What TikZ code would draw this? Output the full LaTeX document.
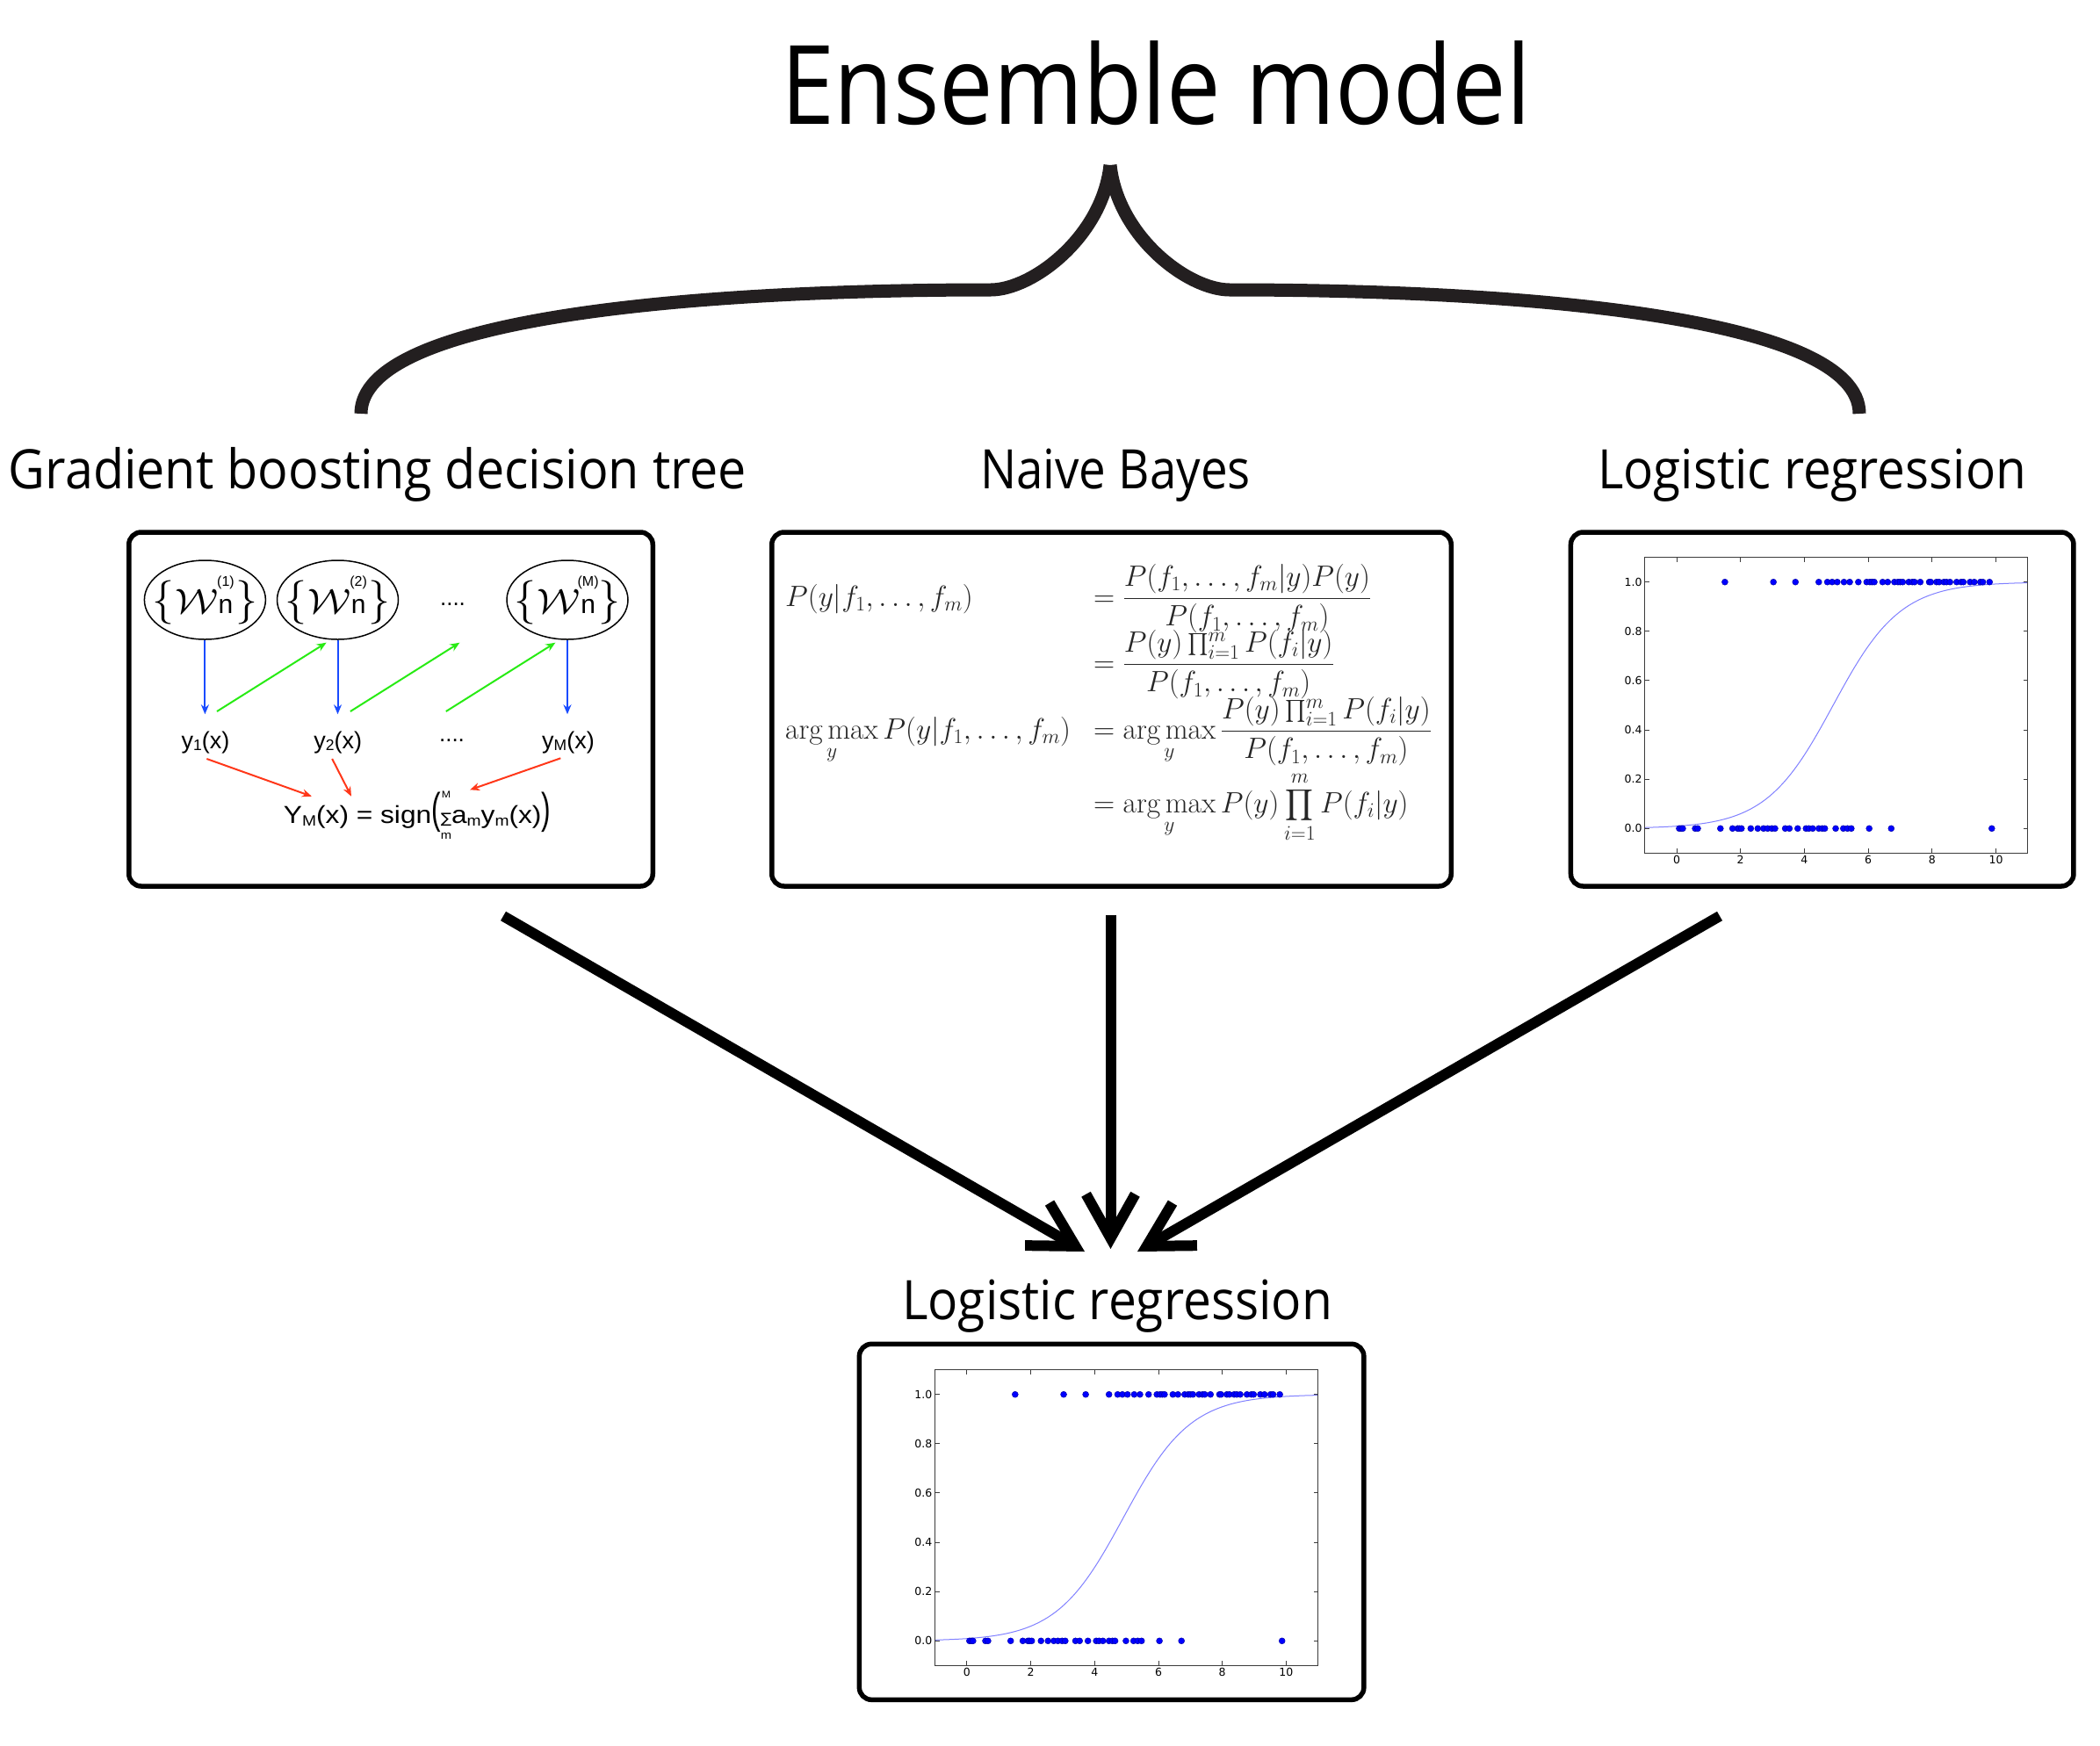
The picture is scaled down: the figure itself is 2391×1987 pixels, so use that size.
\RequirePackage{fix-cm}
\documentclass[tikz,border=0pt]{standalone}
\usepackage{amsmath}
\usepackage{graphicx}
\usepackage{fontspec}
\setsansfont{Liberation Sans}
\newfontfamily\headfont{Open Sans}
\newfontfamily\tickfont{DejaVu Sans}
\usetikzlibrary{arrows.meta,shapes.geometric}

\definecolor{bracecol}{RGB}{35,31,32}
\definecolor{gbblue}{RGB}{25,75,255}
\definecolor{gbgreen}{RGB}{40,235,20}
\definecolor{gbred}{RGB}{255,55,25}
\definecolor{dotblue}{RGB}{0,0,255}
\definecolor{curveblue}{RGB}{128,128,255}
\definecolor{axisgray}{RGB}{60,60,60}

\newcommand{\wset}[1]{\makebox[0pt][c]{%
  {\fontsize{50}{50}\selectfont$\{$}\kern1pt
  \scalebox{1.15}[1]{\fontsize{40}{40}\selectfont$\mathcal{W}$}%
  \rlap{\makebox[17pt][c]{\raisebox{31pt}{\fontsize{16}{16}\selectfont\sffamily #1}}}%
  \makebox[17pt][c]{\fontsize{30}{30}\selectfont\sffamily n}%
  \kern3pt{\fontsize{50}{50}\selectfont$\}$}}}
\newcommand{\ylab}[1]{\fontsize{27}{27}\selectfont\sffamily y\raisebox{-2pt}{\fontsize{17.5}{17.5}\selectfont #1}(x)}
\newcommand{\subm}[1]{\raisebox{-3pt}{\fontsize{17}{17}\selectfont #1}}
\newcommand{\tallparen}[1]{\scalebox{1}[1.75]{#1}}
\newcommand{\sumstack}{\begingroup\setbox0\hbox{\tickfont\fontsize{16}{16}\selectfont ∑}%
  \rlap{\makebox[\wd0][c]{\raisebox{29pt}{\fontsize{11}{11}\selectfont M}}}%
  \rlap{\makebox[\wd0][c]{\raisebox{-18pt}{\fontsize{13}{13}\selectfont m}}}%
  \box0\endgroup}

\tikzset{
  panel/.style={draw, line width=5.5pt, rounded corners=14pt, inner sep=0pt},
  heading/.style={anchor=base, inner sep=0pt},
  bigarrow/.style={line width=12pt, -{Straight Barb[length=50pt,width=56pt]}},
  wnode/.style={draw, ellipse, line width=1.5pt, minimum width=138pt, minimum height=90pt, inner sep=0pt},
  barrow/.style={gbblue, line width=2pt, -{Stealth[length=11pt,width=9pt]}},
  garrow/.style={gbgreen, line width=2pt, -{Stealth[length=11pt,width=9pt]}},
  rarrow/.style={gbred, line width=2pt, -{Stealth[length=11pt,width=9pt]}},
  ylabel/.style={anchor=base, inner sep=0pt},
  eq/.style={anchor=base west, inner sep=0pt, text=black!85, font=\fontsize{33.5}{33.5}\selectfont},
  ticklab/.style={inner sep=0pt, font=\tickfont\fontsize{12.5}{12.5}\selectfont},
  bracestroke/.style={draw=bracecol, line width=15pt},
}

% plot macro: #1 prefix, #2,#3 pixel position of data origin
\newcommand{\lrplot}[3]{%
\begin{scope}[shift={(#2,#3)}, x=36.35pt, y=280.6pt]
  \draw[curveblue, line width=1pt] plot[domain=-1:11, samples=120, smooth] (\x,{1/(1+exp(-0.95*(\x-4.9)))});
  \draw[axisgray, line width=1.2pt] (-1,-0.1) rectangle (11,1.1);
  \foreach \t in {0,2,4,6,8,10} {
    \draw[axisgray, line width=1pt] (\t,-0.1) -- ++(0,5pt);
    \draw[axisgray, line width=1pt] (\t,1.1) -- ++(0,-5pt);
    \node[ticklab, anchor=north] (#1x\t) at ([yshift=-3pt]\t,-0.1) {\t};
  }
  \foreach \v/\l [count=\i] in {0/0.0,0.2/0.2,0.4/0.4,0.6/0.6,0.8/0.8,1/1.0} {
    \draw[axisgray, line width=1pt] (-1,\v) -- ++(5pt,0);
    \draw[axisgray, line width=1pt] (11,\v) -- ++(-5pt,0);
    \node[ticklab, anchor=east] (#1y\i) at ([xshift=-3pt]-1,\v) {\l};
  }
  \foreach \d in {1.51,3.03,3.72,4.45,4.72,4.87,5.03,5.24,5.42,5.69,5.95,6.05,6.12,6.19,6.45,6.61,6.82,6.93,7.0,7.08,7.27,7.38,7.45,7.63,7.91,7.96,8.14,8.22,8.37,8.45,8.56,8.77,8.91,8.98,9.19,9.32,9.51,9.59,9.8}
    \filldraw[fill=dotblue, draw=dotblue!60!black, line width=0.4pt] (\d,1) circle[radius=3.5pt];
  \foreach \d in {0.08,0.14,0.19,0.58,0.66,1.37,1.75,1.91,1.96,2.03,2.32,2.54,2.72,2.85,2.98,3.08,3.4,3.53,3.79,4.05,4.14,4.26,4.45,4.56,4.64,4.98,5.22,5.35,5.47,6.03,6.72,9.87}
    \filldraw[fill=dotblue, draw=dotblue!60!black, line width=0.4pt] (\d,0) circle[radius=3.5pt];
\end{scope}}

\begin{document}
\begin{tikzpicture}[x=1pt, y=-1pt]
\useasboundingbox (0,0) rectangle (2391,1987);

% title
\node[heading] (title) at (1316,141) {\resizebox{854pt}{\height}{\headfont\fontsize{125}{125}\selectfont Ensemble model}};

% brace
\path[bracestroke] (1264,188) .. controls (1255,270) and (1175,330) .. (1128,330)
      .. controls (800,330) and (411,360) .. (411,471);
\path[bracestroke] (1264,188) .. controls (1273,270) and (1353,330) .. (1400,330)
      .. controls (1728,330) and (2117,360) .. (2117,471);

% headings
\node[heading] (h1) at (430,556) {\resizebox{840pt}{\height}{\headfont\fontsize{62}{62}\selectfont Gradient boosting decision tree}};
\node[heading] (h2) at (1270,556) {\resizebox{308pt}{\height}{\headfont\fontsize{62}{62}\selectfont Naive Bayes}};
\node[heading] (h3) at (2063,556) {\resizebox{488pt}{\height}{\headfont\fontsize{62}{62}\selectfont Logistic regression}};
\node[heading] (h4) at (1272,1502) {\resizebox{490pt}{\height}{\headfont\fontsize{62}{62}\selectfont Logistic regression}};

% panels
\node[panel, minimum width=596.5pt, minimum height=403pt] (b1) at (445,807.5) {};
\node[panel, minimum width=773.5pt, minimum height=403pt] (b2) at (1265.5,807.5) {};
\node[panel, minimum width=572.5pt, minimum height=403pt] (b3) at (2074.7,807.5) {};
\node[panel, minimum width=574.5pt, minimum height=405pt] (b4) at (1265.6,1732.8) {};

% ---- gradient boosting panel
\node[wnode] (e1) at (233.4,683) {\wset{(1)}};
\node[wnode] (e2) at (384.5,683) {\wset{(2)}};
\node[wnode] (e3) at (646,683) {\wset{(M)}};
\node[ylabel] (dots1) at (515.5,689) {\fontsize{26}{26}\selectfont\sffamily ....};
\node[ylabel] (y1) at (234,852) {\ylab{1}};
\node[ylabel] (y2) at (384.7,852) {\ylab{2}};
\node[ylabel] (dots2) at (514.5,844) {\fontsize{26}{26}\selectfont\sffamily ....};
\node[ylabel] (yM) at (647,852) {\ylab{M}};
\node[ylabel] (YM) at (475,937) {\resizebox{304pt}{\height}{\sffamily\fontsize{28}{28}\selectfont Y\subm{M}(x) = sign\tallparen{(}\sumstack a\subm{m}y\subm{m}(x)\tallparen{)}}};

\draw[barrow, shorten >=19pt] (e1.south) -- (e1.south |- y1.north);
\draw[barrow, shorten >=19pt] (e2.south) -- (e2.south |- y2.north);
\draw[barrow, shorten >=19pt] (e3.south) -- (e3.south |- yM.north);

\coordinate (g1s) at (247,810);   \coordinate (g1e) at (371.6,731.7);
\coordinate (g2s) at (398.9,810); \coordinate (g2e) at (523.4,731.7);
\coordinate (g3s) at (507.8,810); \coordinate (g3e) at (632.4,731.7);
\draw[garrow] (g1s) -- (g1e);
\draw[garrow] (g2s) -- (g2e);
\draw[garrow] (g3s) -- (g3e);

\coordinate (r1s) at (235.4,864); \coordinate (r1e) at (354.9,906.7);
\coordinate (r2s) at (378.2,864); \coordinate (r2e) at (400,906.7);
\coordinate (r3s) at (638.3,863.3); \coordinate (r3e) at (535.1,899.3);
\draw[rarrow] (r1s) -- (r1e);
\draw[rarrow] (r2s) -- (r2e);
\draw[rarrow] (r3s) -- (r3e);

% ---- naive bayes panel
\node[eq] (l1) at (894,690) {$P(y|f_1,\ldots,f_m)$};
\node[eq] (q1) at (1245,690) {$\displaystyle = \frac{P(f_1,\ldots,f_m|y)P(y)}{P(f_1,\ldots,f_m)}$};
\node[eq] (q2) at (1245,765) {$\displaystyle = \frac{P(y)\prod_{i=1}^m P(f_i|y)}{P(f_1,\ldots,f_m)}$};
\node[eq] (l3) at (894,841) {$\displaystyle \operatorname*{arg\,max}_y P(y|f_1,\ldots,f_m)$};
\node[eq] (q3) at (1245,841) {$\displaystyle = \operatorname*{arg\,max}_y \frac{P(y)\prod_{i=1}^m P(f_i|y)}{P(f_1,\ldots,f_m)}$};
\node[eq] (q4) at (1245,925) {$\displaystyle = \operatorname*{arg\,max}_y P(y)\prod_{i=1}^m P(f_i|y)$};

% ---- plots
\lrplot{p}{1909}{943.3}
\lrplot{q}{1100.9}{1868.3}

% ---- big arrows
\coordinate (a1s) at (573,1043);   \coordinate (a1e) at (1235,1425);
\coordinate (a2s) at (1264.5,1042); \coordinate (a2e) at (1264.5,1422);
\coordinate (a3s) at (1958,1043);  \coordinate (a3e) at (1295,1425);
\draw[bigarrow] (a1s) -- (a1e);
\draw[bigarrow] (a2s) -- (a2e);
\draw[bigarrow] (a3s) -- (a3e);
\end{tikzpicture}
\end{document}
